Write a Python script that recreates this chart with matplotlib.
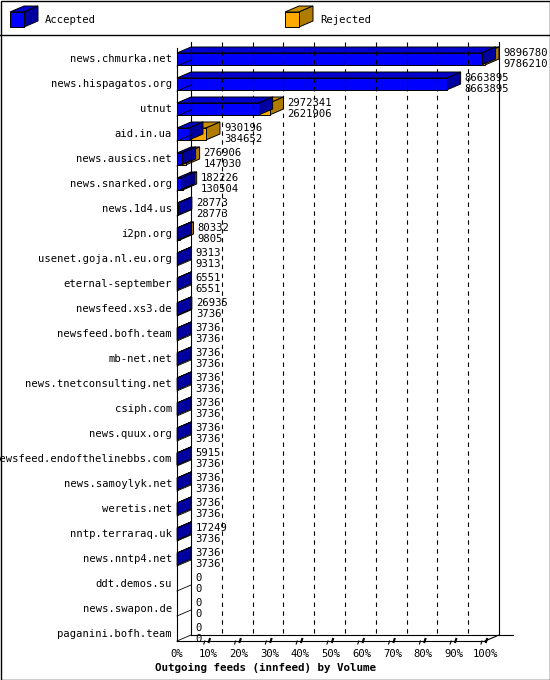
import matplotlib.pyplot as plt
from matplotlib.patches import Polygon, Rectangle

hosts = ["news.chmurka.net", "news.hispagatos.org", "utnut", "aid.in.ua",
         "news.ausics.net", "news.snarked.org", "news.1d4.us", "i2pn.org",
         "usenet.goja.nl.eu.org", "eternal-september", "newsfeed.xs3.de",
         "newsfeed.bofh.team", "mb-net.net", "news.tnetconsulting.net",
         "csiph.com", "news.quux.org", "newsfeed.endofthelinebbs.com",
         "news.samoylyk.net", "weretis.net", "nntp.terraraq.uk",
         "news.nntp4.net", "ddt.demos.su", "news.swapon.de", "paganini.bofh.team"]
offered = [9896780, 8663895, 2972341, 930196, 276906, 182226, 28773, 80332,
           9313, 6551, 26935, 3736, 3736, 3736, 3736, 3736, 5915, 3736, 3736,
           17249, 3736, 0, 0, 0]
accepted = [9786210, 8663895, 2621906, 384652, 147030, 130504, 28773, 9805,
            9313, 6551, 3736, 3736, 3736, 3736, 3736, 3736, 3736, 3736, 3736,
            3736, 3736, 0, 0, 0]
pct_ticks = list(range(0, 101, 10))

BLUE = ("#0000ff", "#0000cc", "#0000a0")
GOLD = ("#ffaa00", "#c89000", "#b07c00")
X0, X1, DX, DY = 177, 485, 14, -6
ROW0, STEP = 59, 25
FONT = dict(family="DejaVu Sans Mono", fontsize=7.6)

fig = plt.figure(figsize=(5.5, 6.8), dpi=100)
ax = fig.add_axes([0, 0, 1, 1])
ax.set_xlim(0, 550)
ax.set_ylim(680, 0)
ax.axis("off")

def box(x0, x1, yt, yb, cols):
    ax.add_patch(Polygon([(x0, yt), (x0 + DX, yt + DY), (x1 + DX, yt + DY), (x1, yt)],
                         fc=cols[1], ec="black", lw=0.7))
    ax.add_patch(Polygon([(x1, yt), (x1 + DX, yt + DY), (x1 + DX, yb + DY), (x1, yb)],
                         fc=cols[2], ec="black", lw=0.7))
    ax.add_patch(Rectangle((x0, yt), x1 - x0, yb - yt, fc=cols[0], ec="black", lw=0.7))

# frame and legend
ax.add_patch(Rectangle((0.5, 0.5), 549, 679, fill=False, ec="black", lw=1))
ax.plot([0, 550], [35, 35], color="black", lw=1)
box(10, 24, 12, 27, BLUE)
ax.text(45, 20, "Accepted", va="center", **FONT)
box(285, 299, 12, 27, GOLD)
ax.text(320, 20, "Rejected", va="center", **FONT)

bottom = ROW0 + STEP * (len(hosts) - 1) + 7
top = 48
# walls, grid, floor
ax.plot([X0, X0], [top, bottom], color="black", lw=0.8)
ax.plot([X0 + DX, X0 + DX], [top + DY, bottom + DY], color="black", lw=0.8)
ax.plot([X1 + DX, X1 + DX], [top + DY, bottom + DY], color="black", lw=0.8)
ax.plot([X0, X1], [bottom, bottom], color="black", lw=0.8)
ax.plot([X0 + DX, X1 + 2 * DX], [bottom + DY, bottom + DY], color="black", lw=0.8)
ax.plot([X1, X1 + DX], [bottom, bottom + DY], color="black", lw=0.8)
for i in range(len(hosts)):
    y = ROW0 + 7 + STEP * i
    ax.plot([X0, X0 + DX], [y, y + DY], color="black", lw=0.6)
for p in pct_ticks:
    x = X0 + (X1 - X0) * p / 100
    if 0 < p < 100:
        ax.plot([x + DX, x + DX], [top + DY, bottom + DY], color="black", lw=0.8, ls=(0, (4, 4)))
    if p > 0:
        ax.plot([x - 4, x - 3], [bottom + 3, bottom], color="black", lw=0.8)
        ax.plot([x + 1, x + 2], [bottom + 1, bottom - 2], color="black", lw=1.5)
    ax.text(x, bottom + 13, f"{p}%", ha="center", va="center", **FONT)

vmax = max(offered)
for i, (h, o, a) in enumerate(zip(hosts, offered, accepted)):
    cy = ROW0 + STEP * i
    xa = X0 + (X1 - X0) * a / vmax
    xo = X0 + (X1 - X0) * o / vmax
    if o > 0:
        if o > a:
            box(xa, xo, cy - 6, cy + 6, GOLD)
        box(X0, xa, cy - 6, cy + 6, BLUE)
    ax.text(172, cy, h, ha="right", va="center", **FONT)
    ax.text(xo + DX + 4, cy - 6, str(o), va="center", **FONT)
    ax.text(xo + DX + 4, cy + 5, str(a), va="center", **FONT)

ax.text(155, bottom + 27, "Outgoing feeds (innfeed) by Volume", va="center",
        fontweight="bold", family="DejaVu Sans Mono", fontsize=7.8)

fig.savefig("out.png", dpi=100)
